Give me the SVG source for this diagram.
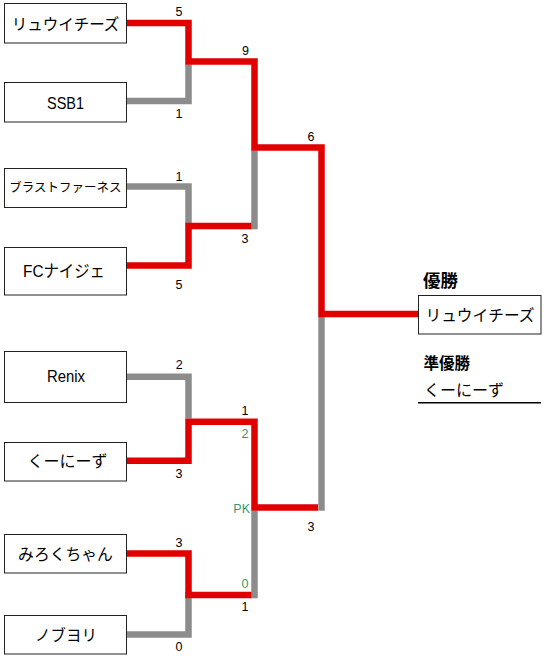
<svg xmlns="http://www.w3.org/2000/svg" width="550" height="661" viewBox="0 0 550 661">
<style>
.bg{fill:#ffffff}
.box{fill:#ffffff;stroke:#222222;stroke-width:1}
.win{fill:none;stroke:#e00000;stroke-width:6.5;stroke-linejoin:miter;stroke-linecap:butt}
.lose{fill:none;stroke:#8c8c8c;stroke-width:6.5;stroke-linejoin:miter;stroke-linecap:butt}
.name{font-family:"Liberation Sans","Noto Sans CJK JP",sans-serif;font-size:15.5px;fill:#000000;text-anchor:middle}
.score{font-family:"Liberation Sans",sans-serif;font-size:12.5px;fill:#000000;text-anchor:middle}
.pk{font-family:"Liberation Sans",sans-serif;font-size:12.5px;fill:#2e9a6e;text-anchor:middle}
.head{font-family:"Noto Sans CJK JP",sans-serif;font-weight:bold;fill:#000000}
</style>
<rect class="bg" x="0" y="0" width="550" height="661"/>
<g id="connectors">
  <path class="lose" d="M127,101 H188.5 V64.5"/>
  <path class="lose" d="M127,186.5 H188.5 V223"/>
  <path class="lose" d="M254.5,229.3 V150.5"/>
  <path class="lose" d="M321.5,510.7 V317"/>
  <path class="lose" d="M127,376.7 H188.5 V418.5"/>
  <path class="lose" d="M127,634.5 H188.5 V592"/>
  <path class="lose" d="M254.5,598.3 V510.5"/>
  <path class="win" d="M127,23 H188.5 V61.5 H254.5 V147.5 H321.5 V314 H418"/>
  <path class="win" d="M127,265.5 H188.5 V226 H251.5"/>
  <path class="win" d="M127,460.7 H188.5 V421.7 H254.5 V507.5 H318"/>
  <path class="win" d="M127,553.5 H188.5 V595 H251.5"/>
</g>
<g id="team-ryuichiz">
  <rect class="box" x="4.5" y="3.5" width="122" height="39.5"/>
  <text class="name" x="65.5" y="29.5">リュウイチーズ</text>
</g>
<g id="team-ssb1">
  <rect class="box" x="4.5" y="82.5" width="122" height="39.5"/>
  <text class="name" x="65.5" y="108.5" style="font-size:17px" textLength="37" lengthAdjust="spacingAndGlyphs">SSB1</text>
</g>
<g id="team-blast">
  <rect class="box" x="4.5" y="168.5" width="122" height="39"/>
  <text class="name" x="65.5" y="192" style="font-size:12.5px">ブラストファーネス</text>
</g>
<g id="team-fc">
  <rect class="box" x="4.5" y="247.5" width="122" height="47.5"/>
  <text class="name" x="64" y="277" style="font-size:17px" textLength="82" lengthAdjust="spacingAndGlyphs">FCナイジェ</text>
</g>
<g id="team-renix">
  <rect class="box" x="4.5" y="351.5" width="122" height="51"/>
  <text class="name" x="66" y="382" style="font-size:16px" textLength="38" lengthAdjust="spacingAndGlyphs">Renix</text>
</g>
<g id="team-kuniizu">
  <rect class="box" x="4.5" y="442.5" width="122" height="38.5"/>
  <text class="name" x="67.5" y="467" style="font-size:16px">くーにーず</text>
</g>
<g id="team-mirokuchan">
  <rect class="box" x="4.5" y="534.5" width="122" height="38.5"/>
  <text class="name" x="65.5" y="560" style="font-size:15.8px">みろくちゃん</text>
</g>
<g id="team-nobuyori">
  <rect class="box" x="4.5" y="615.5" width="122" height="38.5"/>
  <text class="name" x="66" y="641" style="font-size:15.5px">ノブヨリ</text>
</g>
<g id="scores">
  <text class="score" x="179" y="16">5</text>
  <text class="score" x="179" y="118">1</text>
  <text class="score" x="245.5" y="55">9</text>
  <text class="score" x="179" y="180.5">1</text>
  <text class="score" x="179" y="289">5</text>
  <text class="score" x="245" y="242.5">3</text>
  <text class="score" x="311" y="140.5">6</text>
  <text class="score" x="179.3" y="369">2</text>
  <text class="score" x="179" y="478">3</text>
  <text class="score" x="245" y="415">1</text>
  <text class="pk" x="245" y="438.3">2</text>
  <text class="pk" x="250" y="512.5" style="text-anchor:end">PK</text>
  <text class="score" x="311" y="530.5">3</text>
  <text class="pk" x="245" y="588">0</text>
  <text class="score" x="245" y="610.5">1</text>
  <text class="score" x="179" y="546.5">3</text>
  <text class="score" x="179" y="650.5">0</text>
</g>
<g id="champion">
  <text class="head" x="423" y="287" font-size="17.5">優勝</text>
  <rect class="box" x="418.5" y="295.5" width="122.5" height="38.5"/>
  <text class="name" x="480" y="321" style="font-size:15.7px">リュウイチーズ</text>
</g>
<g id="runner-up">
  <text class="head" x="423.5" y="369" font-size="15.5">準優勝</text>
  <text class="name" x="464" y="396" style="font-size:16px">くーにーず</text>
  <line x1="418" y1="402.7" x2="541" y2="402.7" stroke="#000000" stroke-width="1.5"/>
</g>
</svg>
